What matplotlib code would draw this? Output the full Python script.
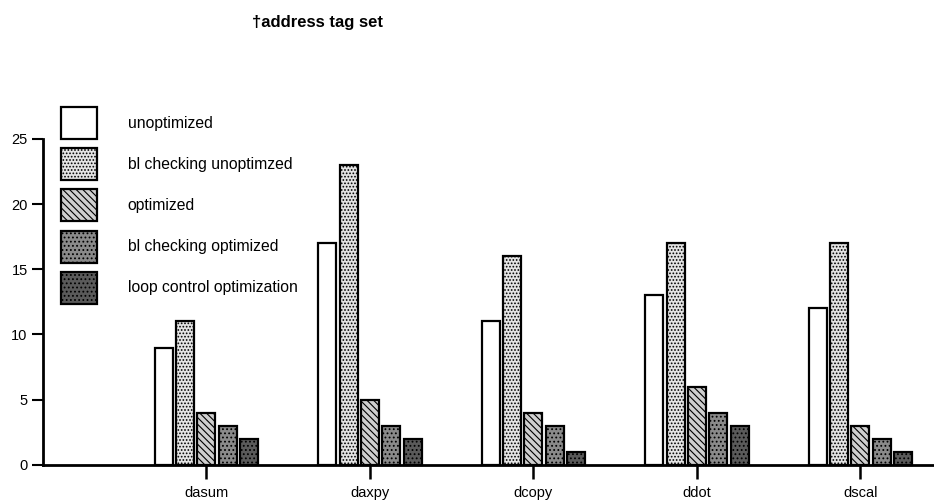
import matplotlib.pyplot as plt
import numpy as np

plt.rcParams['font.family'] = ['Liberation Sans', 'DejaVu Sans']
plt.rcParams['hatch.linewidth'] = 0.8

routines = ["dasum", "daxpy", "dcopy", "ddot", "dscal"]
series_names = ["unoptimized", "bl checking unoptimzed", "optimized",
                "bl checking optimized", "loop control optimization"]
unoptimized = [9, 17, 11, 13, 12]
bl_check_unopt = [11, 23, 16, 17, 17]
optimized = [4, 5, 4, 6, 3]
bl_check_opt = [3, 3, 3, 4, 2]
loop_control = [2, 2, 1, 3, 1]
yticks = [0, 5, 10, 15, 20, 25]

series = [unoptimized, bl_check_unopt, optimized, bl_check_opt, loop_control]
faces = ["white", "#e4e4e4", "#cfcfcf", "#8a8a8a", "#5a5a5a"]
hatches = [None, ".....", "\\\\\\\\\\", "....", "...."]

fig = plt.figure(figsize=(9.34, 5.01), dpi=100)
ax = fig.add_axes([0.046, 0.072, 0.954, 0.651])

x = np.arange(len(routines))
step = 0.131
width = 0.11
for i, vals in enumerate(series):
    ax.bar(x + (i - 2) * step, vals, width, color=faces[i], edgecolor="black",
           linewidth=1.6, hatch=hatches[i], label=series_names[i], clip_on=False)

ax.set_xlim(-1.0, 4.45)
ax.set_ylim(0, 25)
ax.set_yticks(yticks)
ax.set_xticks(x)
ax.set_xticklabels(routines)
ax.tick_params(axis="y", direction="out", length=8, width=1.5, labelsize=10.5, pad=3)
ax.tick_params(axis="x", direction="out", length=10, width=1.8, labelsize=10.5, pad=5)
for s in ["top", "right"]:
    ax.spines[s].set_visible(False)
ax.spines["left"].set_linewidth(2)
ax.spines["bottom"].set_linewidth(2)

leg = ax.legend(loc="upper left", bbox_to_anchor=(0.0653, 0.786), bbox_transform=fig.transFigure,
                frameon=False, fontsize=11.3, handlelength=2.29, handleheight=2.76,
                handletextpad=1.97, labelspacing=0.58, borderpad=0, borderaxespad=0)

fig.text(0.34, 0.955, "\u2020address tag set", fontsize=12, fontweight="bold", ha="center", va="center")

fig.savefig("out.png", dpi=100)
